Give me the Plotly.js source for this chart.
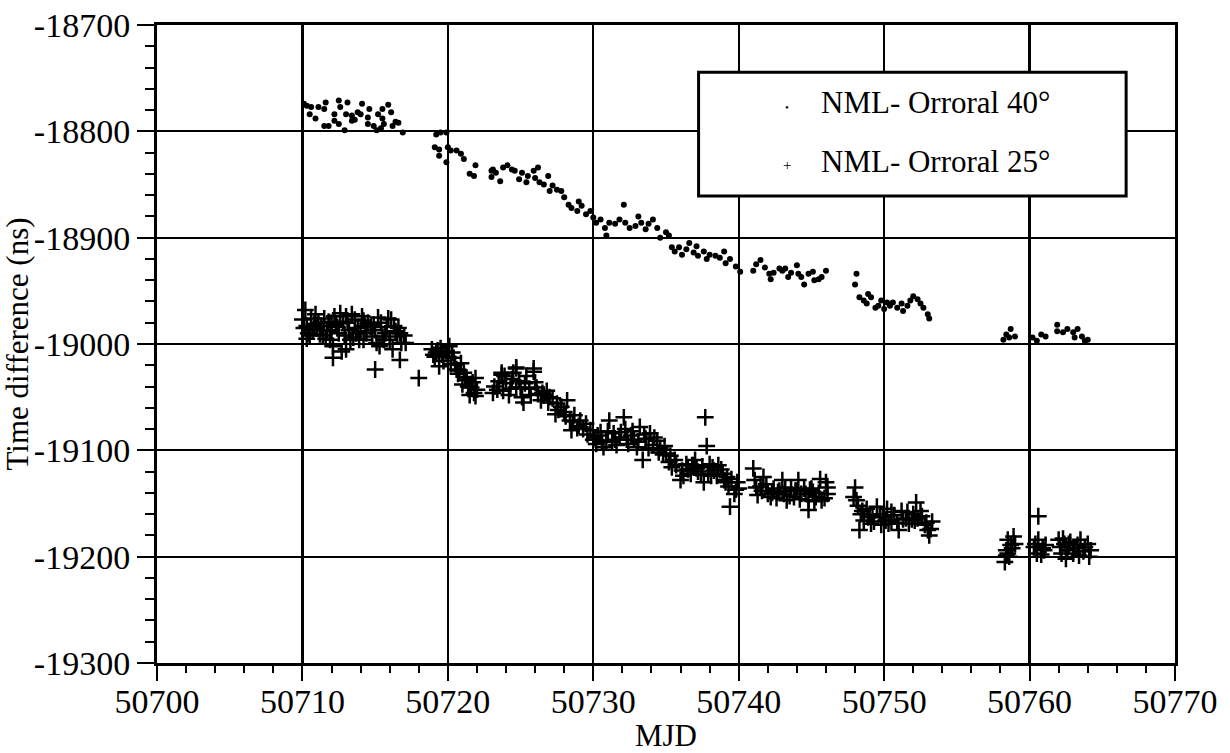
<!DOCTYPE html>
<html>
<head>
<meta charset="utf-8">
<script src="https://cdn.plot.ly/plotly-3.0.1.min.js"></script>
<style>
html,body{margin:0;padding:0;background:#fff;}
#chart{width:1230px;height:753px;}
</style>
</head>
<body>
<div id="chart"></div>
<script>
// NML - Orroral 40° (dots)
const dotMJD = [
50710.1,50710.3,50710.6,50710.5,50710.9,50711.1,50711.6,50711.5,50711.5,50711.8,
50712.2,50712.2,50712.5,50712.5,50712.6,50712.9,50713.1,50713.0,50713.4,50713.4,
50713.8,50714.1,50714.0,50714.5,50714.6,50714.5,50714.9,50715.1,50715.2,50715.5,
50715.5,50715.6,50715.9,50716.1,50716.2,50716.4,50716.6,50716.9,50715.4,50713.6,
50719.2,50719.5,50719.9,50719.1,50719.4,50719.4,50720.0,50720.2,50720.6,50719.9,
50720.9,50721.1,50721.9,50721.5,50721.8,50723.0,50723.0,
50723.1,50723.3,50723.6,50723.8,50724.1,50724.4,50724.6,50724.9,50725.1,50725.4,
50725.5,50725.9,50726.0,50726.2,50726.3,50726.6,50726.9,50727.0,50727.2,50727.5,
50727.8,50728.0,50728.3,50728.5,50728.9,50729.0,50729.2,50729.5,50729.8,50730.0,
50730.2,50730.5,50730.8,50730.9,50731.1,50731.5,50731.8,50732.1,50732.2,50732.5,
50732.9,50733.1,50733.3,50733.6,50733.8,50734.1,50734.4,50734.6,50735.0,50735.2,
50735.4,50735.6,50735.9,50736.1,50736.4,50736.6,50736.9,50737.1,50737.2,50737.6,
50737.8,50738.0,50738.4,50738.7,50739.0,50739.1,50739.4,50739.8,50740.1,
50741.0,50741.2,50741.5,50741.8,50742.1,50742.2,50742.4,50742.8,50743.0,50743.2,
50743.4,50743.6,50744.0,50744.1,50744.3,50744.5,50744.8,50745.1,50745.2,50745.5,
50745.7,50746.0,
50748.1,50748.0,50748.3,50748.6,50748.8,50748.9,50749.1,50749.4,50749.6,50749.8,
50750.0,50750.2,50750.4,50750.6,50750.9,50751.2,50751.3,50751.6,50751.8,50752.0,
50752.3,50752.5,50752.7,50753.0,50753.1,
50758.2,50758.4,50758.7,50759.0,50758.6,50760.2,50760.5,50760.8,50761.1,
50761.9,50761.9,50762.3,50762.6,50763.0,50763.1,50763.3,50763.6,50763.8,50764.0
];
const dotNs = [
-18774,-18776,-18777,-18784,-18788,-18777,-18773,-18779,-18795,-18795,
-18784,-18790,-18771,-18793,-18777,-18799,-18773,-18784,-18785,-18790,
-18782,-18774,-18784,-18787,-18779,-18793,-18795,-18799,-18784,-18779,
-18788,-18793,-18775,-18782,-18795,-18791,-18792,-18801,-18797,-18789,
-18803,-18801,-18801,-18815,-18817,-18823,-18815,-18818,-18818,-18829,
-18821,-18826,-18832,-18840,-18842,-18843,-18837,
-18836,-18839,-18847,-18834,-18832,-18836,-18837,-18845,-18839,-18848,
-18842,-18837,-18844,-18834,-18848,-18850,-18842,-18856,-18851,-18855,
-18856,-18862,-18869,-18872,-18875,-18866,-18870,-18878,-18875,-18881,
-18886,-18883,-18891,-18898,-18886,-18887,-18883,-18869,-18886,-18891,
-18889,-18880,-18886,-18892,-18887,-18883,-18891,-18900,-18895,-18898,
-18909,-18913,-18909,-18916,-18911,-18905,-18914,-18908,-18917,-18913,
-18920,-18916,-18917,-18919,-18913,-18924,-18920,-18927,-18932,
-18931,-18925,-18921,-18928,-18934,-18939,-18933,-18929,-18931,-18929,
-18937,-18933,-18926,-18934,-18937,-18944,-18934,-18932,-18940,-18939,
-18937,-18931,
-18934,-18944,-18956,-18959,-18962,-18953,-18956,-18966,-18964,-18959,
-18967,-18961,-18964,-18961,-18966,-18962,-18969,-18964,-18959,-18955,
-18958,-18962,-18966,-18972,-18976,
-18996,-18991,-18986,-18993,-18994,-18994,-18997,-18991,-18993,
-18982,-18988,-18989,-18986,-18989,-18994,-18986,-18993,-18997,-18996
];

// NML - Orroral 25° (crosses)
const crossMJD = [
50710.2,50710.0,50710.3,50710.6,50710.7,50711.1,50711.2,50711.5,50711.7,50711.9,
50712.0,50712.1,50712.5,50712.6,50712.7,50712.8,50713.0,50713.2,50713.0,50713.3,
50713.6,50713.7,50714.1,50714.2,50714.3,50714.5,50714.8,50715.0,50715.1,50715.3,
50715.4,50715.7,50715.9,50716.0,50716.2,50716.3,50716.5,50716.7,50716.8,50717.1,
50710.4,50711.0,50711.4,50712.3,50713.5,50714.0,50714.7,50715.6,50716.4,50710.8,
50710.1,50710.5,50710.9,50711.3,50711.8,50712.2,50712.4,50712.9,50713.1,50713.4,
50713.8,50714.2,50714.4,50714.9,50715.2,50715.5,50715.8,50716.1,50716.6,50717.0,
50711.6,50713.9,50710.3,50712.0,
50712.1,50715.0,50716.7,50718.0,
50718.9,50719.1,50719.5,50719.7,50719.9,50720.1,50720.2,50720.4,50720.6,50720.9,
50721.1,50721.3,50721.6,50721.8,50721.9,50721.5,50719.4,50720.7,50721.0,50719.2,
50719.0,50719.3,50719.6,50720.0,50720.3,50720.5,50720.8,50721.2,50721.4,50721.7,
50722.0,50721.9,
50723.1,50723.7,50724.7,50725.9,50725.2,
50723.7,50723.8,50724.0,50724.4,50724.7,50724.7,50725.1,50725.3,50725.6,50725.9,
50726.0,50726.2,50726.4,50726.8,50727.0,50727.4,50727.5,50727.8,50728.0,50728.2,
50728.4,50728.5,50728.7,50729.1,50729.3,50729.5,50729.8,50730.1,50730.2,50730.5,
50730.7,50730.9,50731.1,50731.4,50731.6,50731.8,50732.1,50732.2,50732.4,50732.6,
50733.0,50733.2,50733.4,50733.6,50733.9,50734.1,50734.4,50734.6,50735.0,50735.2,
50735.4,50735.6,50736.0,50736.1,50736.4,50736.7,50737.0,50737.1,50737.4,50737.6,
50737.7,50737.8,50738.0,50738.3,50738.6,50738.9,50739.2,50739.4,50739.3,50739.7,
50739.9,50740.0,50723.4,50724.2,50725.0,50726.6,50728.9,50730.0,50731.3,50732.8,
50734.8,50736.9,50738.1,50739.0,
50723.2,50723.5,50723.9,50724.3,50724.5,50724.9,50725.4,50725.7,50726.1,50726.5,
50726.9,50727.2,50727.6,50728.1,50728.6,50729.0,50729.6,50730.3,50730.6,50731.0,
50731.5,50731.9,50732.3,50732.7,50733.1,50733.5,50733.8,50734.2,50734.5,50734.9,
50735.3,50735.7,50736.2,50736.5,50736.8,50737.2,50737.5,50737.9,50738.2,50738.5,
50738.8,50739.1,50739.5,50739.8,
50741.0,50741.1,50741.3,50741.5,50741.7,50742.0,50742.2,50742.4,50742.6,50743.0,
50743.1,50743.3,50743.6,50743.8,50744.1,50744.3,50744.5,50744.8,50744.8,50745.1,
50745.3,50745.6,50745.7,50746.0,50746.1,50742.8,50744.0,50745.0,
50741.2,50741.6,50741.9,50742.3,50742.7,50743.2,50743.5,50743.9,50744.2,50744.6,
50744.9,50745.2,50745.5,50745.9,50746.1,
50748.0,50747.9,50748.2,50748.3,50748.4,50748.6,50748.8,50749.1,50749.2,50749.5,
50749.8,50749.9,50750.2,50750.3,50750.7,50751.0,50751.2,50751.5,50751.7,50752.0,
50752.2,50752.3,50752.5,50752.8,50753.0,50753.1,50753.3,50749.0,50750.5,50751.9,
50748.1,50748.5,50748.9,50749.3,50749.7,50750.1,50750.5,50750.9,50751.3,50751.6,
50752.1,50752.6,50752.9,50753.2,
50758.3,50758.4,50758.5,50758.7,50758.9,50759.0,50758.4,50758.5,50758.8,50758.6,
50760.3,50760.5,50760.6,50760.6,50760.9,50761.1,50760.4,50760.8,50761.0,
50762.0,50762.1,50762.4,50762.6,50762.8,50763.0,50763.3,50763.5,50763.7,50764.0,
50764.1,50762.5,50762.2,50762.7,50763.1,50763.4,50763.8,50764.2,50762.3
];
const crossNs = [
-18968,-18977,-18983,-18976,-18987,-18980,-18991,-18976,-18987,-18996,
-18980,-19002,-18990,-18971,-19007,-18979,-18974,-18987,-19005,-18996,
-18977,-18990,-18974,-18996,-18983,-18980,-18993,-18987,-18999,-19002,
-18980,-18990,-18976,-18996,-19005,-18983,-18993,-18990,-18999,-18999,
-18990,-18985,-18992,-18982,-18994,-18988,-18984,-18996,-18988,-18981,
-18985,-18992,-18972,-18983,-18979,-18974,-18984,-18992,-18980,-18972,
-18985,-18978,-18990,-18982,-18975,-18993,-18984,-18977,-18985,-18992,
-18995,-18996,-18995,-18988,
-19013,-19024,-19015,-19032,
-19005,-19012,-19004,-19016,-19007,-19002,-19019,-19013,-19024,-19018,
-19027,-19034,-19041,-19046,-19032,-19048,-19021,-19028,-19038,-19008,
-19010,-19006,-19010,-19012,-19008,-19019,-19025,-19031,-19040,-19036,
-19043,-19049,
-19046,-19029,-19023,-19026,-19055,
-19027,-19044,-19037,-19033,-19022,-19041,-19050,-19037,-19042,-19023,
-19036,-19047,-19053,-19044,-19050,-19066,-19056,-19059,-19064,-19053,
-19072,-19081,-19067,-19072,-19080,-19075,-19081,-19088,-19094,-19083,
-19097,-19091,-19072,-19084,-19095,-19088,-19069,-19080,-19094,-19086,
-19097,-19078,-19109,-19089,-19084,-19095,-19091,-19098,-19103,-19111,
-19116,-19109,-19128,-19119,-19113,-19122,-19109,-19117,-19123,-19130,
-19069,-19096,-19113,-19119,-19114,-19122,-19125,-19153,-19134,-19141,
-19130,-19136,-19043,-19048,-19041,-19048,-19079,-19090,-19092,-19090,
-19104,-19114,-19124,-19128,
-19040,-19035,-19030,-19042,-19027,-19035,-19030,-19048,-19041,-19046,
-19055,-19051,-19062,-19068,-19073,-19077,-19085,-19086,-19092,-19082,
-19090,-19083,-19090,-19082,-19092,-19085,-19098,-19088,-19102,-19096,
-19105,-19114,-19124,-19118,-19114,-19120,-19115,-19122,-19116,-19124,
-19118,-19130,-19127,-19137,
-19117,-19128,-19142,-19134,-19125,-19141,-19144,-19136,-19145,-19128,
-19141,-19147,-19136,-19144,-19128,-19141,-19136,-19147,-19156,-19139,
-19144,-19127,-19147,-19130,-19141,-19138,-19138,-19136,
-19135,-19138,-19132,-19140,-19139,-19135,-19143,-19138,-19146,-19141,
-19137,-19148,-19140,-19145,-19135,
-19135,-19144,-19152,-19175,-19160,-19166,-19155,-19169,-19161,-19153,
-19170,-19163,-19155,-19169,-19161,-19175,-19157,-19164,-19169,-19160,
-19149,-19164,-19157,-19170,-19175,-19180,-19167,-19162,-19166,-19165,
-19147,-19157,-19163,-19167,-19160,-19166,-19158,-19168,-19165,-19158,
-19166,-19162,-19168,-19174,
-19205,-19194,-19184,-19189,-19181,-19188,-19199,-19197,-19192,-19200,
-19191,-19197,-19184,-19162,-19192,-19189,-19188,-19198,-19194,
-19184,-19191,-19188,-19194,-19186,-19197,-19189,-19184,-19195,-19188,
-19200,-19202,-19197,-19188,-19192,-19199,-19191,-19194,-19183
];

const xTickVals = [50700,50710,50720,50730,50740,50750,50760,50770];
const xTickText = ["50700","50710","50720","50730","50740","50750","50760","50770"];
const yTickVals = [-19300,-19200,-19100,-19000,-18900,-18800,-18700];
const yTickText = ["-19300","-19200","-19100","-19000","-18900","-18800","-18700"];
const legendNames = ["NML- Orroral 40°","NML- Orroral 25°"];

const font = "Liberation Serif, Times New Roman, serif";

const traces = [
  {x: crossMJD, y: crossNs, type: 'scatter', mode: 'markers', name: legendNames[1], showlegend: false,
   marker: {symbol: 'cross-thin', size: 12, color: '#000', line: {width: 2.5, color: '#000'}}},
  {x: dotMJD, y: dotNs, type: 'scatter', mode: 'markers', name: legendNames[0], showlegend: false,
   marker: {symbol: 'circle', size: 6, color: '#000'}}
];

const layout = {
  width: 1230, height: 753,
  margin: {l: 157, r: 55, t: 25, b: 90},
  paper_bgcolor: '#fff', plot_bgcolor: '#fff',
  font: {family: font, color: '#000', size: 31},
  showlegend: false,
  xaxis: {
    range: [50700, 50770], tickvals: xTickVals, ticktext: xTickText,
    ticks: 'outside', ticklen: 15, tickwidth: 2, tickcolor: '#000',
    ticklabelstandoff: -9,
    minor: {dtick: 2, tick0: 50700, ticks: 'outside', ticklen: 7, tickwidth: 2, tickcolor: '#000', showgrid: false},
    showgrid: true, gridcolor: '#000', gridwidth: 2.2,
    showline: true, linecolor: '#000', linewidth: 3, mirror: true,
    zeroline: false,
    tickfont: {family: font, size: 34, color: '#000'},
    title: {text: 'MJD', font: {family: font, size: 31, color: '#000'}, standoff: 4}
  },
  yaxis: {
    range: [-19300, -18700], tickvals: yTickVals, ticktext: yTickText,
    ticks: 'outside', ticklen: 17, tickwidth: 2, tickcolor: '#000',
    minor: {dtick: 20, tick0: -19300, ticks: 'outside', ticklen: 9, tickwidth: 2, tickcolor: '#000', showgrid: false},
    showgrid: true, gridcolor: '#000', gridwidth: 2.2,
    showline: true, linecolor: '#000', linewidth: 3, mirror: true,
    zeroline: false,
    tickfont: {family: font, size: 34, color: '#000'},
    title: {text: 'Time difference (ns)', font: {family: font, size: 31, color: '#000'}, standoff: 2}
  },
  shapes: [
    {type: 'rect', xref: 'paper', yref: 'paper', x0: 0.532, x1: 0.952, y0: 0.732, y1: 0.926,
     fillcolor: '#fff', line: {color: '#000', width: 3}, layer: 'above'}
  ],
  annotations: [
    {xref: 'paper', yref: 'paper', x: 0.619, y: 0.872, text: '•', showarrow: false,
     font: {family: font, size: 11, color: '#000'}, xanchor: 'center', yanchor: 'middle'},
    {xref: 'paper', yref: 'paper', x: 0.619, y: 0.780, text: '+', showarrow: false,
     font: {family: font, size: 15, color: '#000'}, xanchor: 'center', yanchor: 'middle'},
    {xref: 'paper', yref: 'paper', x: 0.650, y: 0.879, text: legendNames[0], showarrow: false,
     font: {family: font, size: 31, color: '#000'}, xanchor: 'left', yanchor: 'middle'},
    {xref: 'paper', yref: 'paper', x: 0.650, y: 0.786, text: legendNames[1], showarrow: false,
     font: {family: font, size: 31, color: '#000'}, xanchor: 'left', yanchor: 'middle'}
  ]
};

Plotly.newPlot('chart', traces, layout, {displayModeBar: false, staticPlot: true});
</script>
</body>
</html>
